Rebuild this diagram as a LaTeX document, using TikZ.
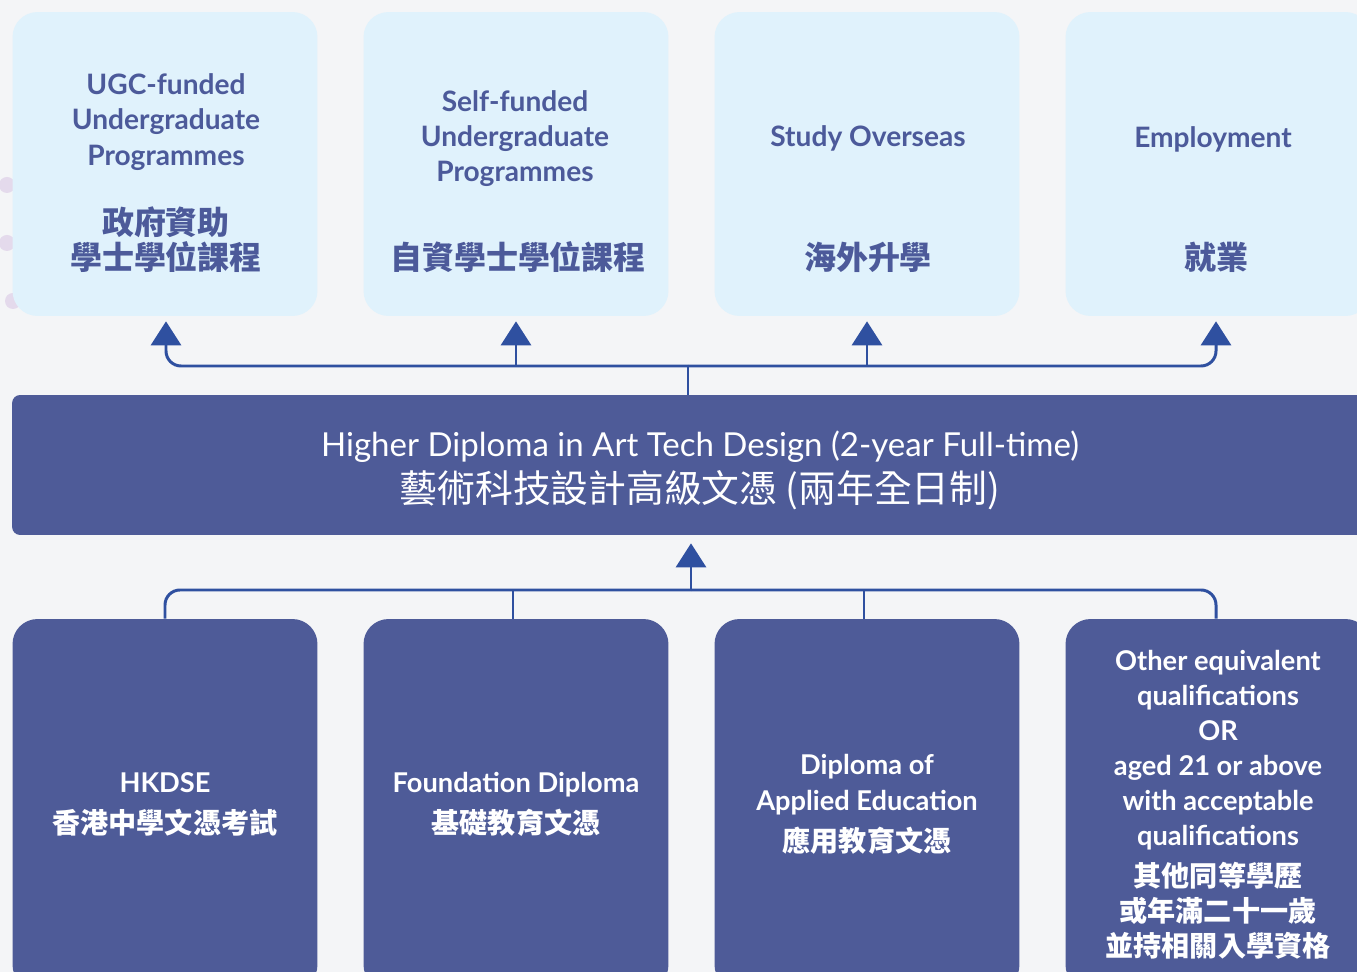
\documentclass[tikz,border=0pt]{standalone}
\usepackage{fontspec}
\setmainfont{Lato}
\newfontfamily\zh{Noto Sans CJK TC}
\usetikzlibrary{arrows.meta}

\definecolor{paper}{HTML}{F4F5F7}
\definecolor{lightbox}{HTML}{E0F2FC}
\definecolor{ink}{HTML}{4C5A9A}
\definecolor{navy}{HTML}{4E5B98}
\definecolor{linkblue}{HTML}{2F50A0}
\definecolor{dot}{HTML}{E4DAEC}

\newcommand{\zhs}{\zh\fontsize{16}{20}\selectfont}
\newcommand{\zhbar}{\zh\fontsize{21.5}{26}\selectfont}

\begin{document}
\begin{tikzpicture}[x=0.02cm, y=-0.02cm,
  outcome/.style={fill=lightbox, rounded corners=0.5cm, minimum width=6.1cm, minimum height=6.08cm},
  entry/.style={fill=navy, rounded corners=0.5cm, minimum width=6.1cm, minimum height=7.42cm,
    text=white, align=center, font=\bfseries\fontsize{15.5}{20}\selectfont},
  bar/.style={fill=navy, rounded corners=0.16cm, minimum width=27.52cm, minimum height=2.8cm,
    text=white, align=center, font=\fontsize{18.8}{26}\selectfont},
  en/.style={text=ink, align=center, font=\bfseries\fontsize{16}{20}\selectfont},
  zhlabel/.style={text=ink, align=center, font=\zh\bfseries\fontsize{18.2}{20}\selectfont},
  link/.style={draw=linkblue, line width=1.7pt},
  headed/.style={-{Triangle[width=0.6cm, length=0.48cm]}}]

  \useasboundingbox (0,0) rectangle (1357,972);
  \clip (0,0) rectangle (1357,972);
  \fill[paper] (0,0) rectangle (1357,972);

  % Background dots
  \fill[dot] (7,185) circle (8);
  \fill[dot] (7,243) circle (8);
  \fill[dot] (13,301) circle (8);

  % Top row
  \node[outcome] (t1) at (165,164) {};
  \node[outcome] (t2) at (516,164) {};
  \node[outcome] (t3) at (867,164) {};
  \node[outcome] (t4) at (1218,164) {};

  \node[en] (t1en) at (166,122) {UGC-funded\\Undergraduate\\Programmes};
  \node[zhlabel] (t1zh) at (166,239.5) {政府資助\\學士學位課程};
  \node[en] (t2en) at (515,138.5) {Self-funded\\Undergraduate\\Programmes};
  \node[zhlabel] (t2zh) at (518,257) {自資學士學位課程};
  \node[en] (t3en) at (868,138) {Study Overseas};
  \node[zhlabel] (t3zh) at (868,257) {海外升學};
  \node[en] (t4en) at (1213,139) {Employment};
  \node[zhlabel] (t4zh) at (1216,257) {就業};

  % Middle bar
  \node[bar] (hd) at (700,465) {\rule{0pt}{21pt}Higher Diploma in Art Tech Design (2-year Full-time)\\\zhbar 藝術科技設計高級文憑 (兩年全日制)};

  % Bottom row
  \node[entry] (b1) at (165,804.5) {HKDSE\\[3.5pt]\zhs 香港中學文憑考試};
  \node[entry] (b2) at (516,804.5) {Foundation Diploma\\[3.5pt]\zhs 基礎教育文憑};
  \node[entry] (b3) at (867,804.5) {Diploma of\\Applied Education\\[3.5pt]\zhs 應用教育文憑};
  \node[entry] (b4) at (1218,804.5) {Other equivalent\\qualifications\\OR\\aged 21 or above\\with acceptable\\qualifications\\[3pt]\zhs 其他同等學歷\\\zhs 或年滿二十一歲\\\zhs 並持相關入學資格};

  % Upper connectors
  \coordinate (up) at (688,366);
  \draw[link] (hd.north -| up) -- (up);
  \draw[link, headed, rounded corners=0.3cm, shorten >=0.1cm] (up) -| (t1.south -| t1en);
  \draw[link, headed, rounded corners=0.3cm, shorten >=0.1cm] (up) -| (t4.south -| t4zh);
  \draw[link, headed, shorten >=0.1cm] (t2.south |- up) -- (t2.south);
  \draw[link, headed, shorten >=0.1cm] (t3.south |- up) -- (t3.south);

  % Lower connectors
  \coordinate (down) at (691,590);
  \draw[link, headed, shorten >=0.16cm] (down) -- (hd.south -| down);
  \draw[link, rounded corners=0.3cm] (down) -| (b1.north);
  \draw[link, rounded corners=0.3cm] (down) -| (b4.north -| t4zh);
  \draw[link] (b2.north -| 513,0) -- (down -| 513,0);
  \draw[link] (b3.north -| 864,0) -- (down -| 864,0);

\end{tikzpicture}
\end{document}
